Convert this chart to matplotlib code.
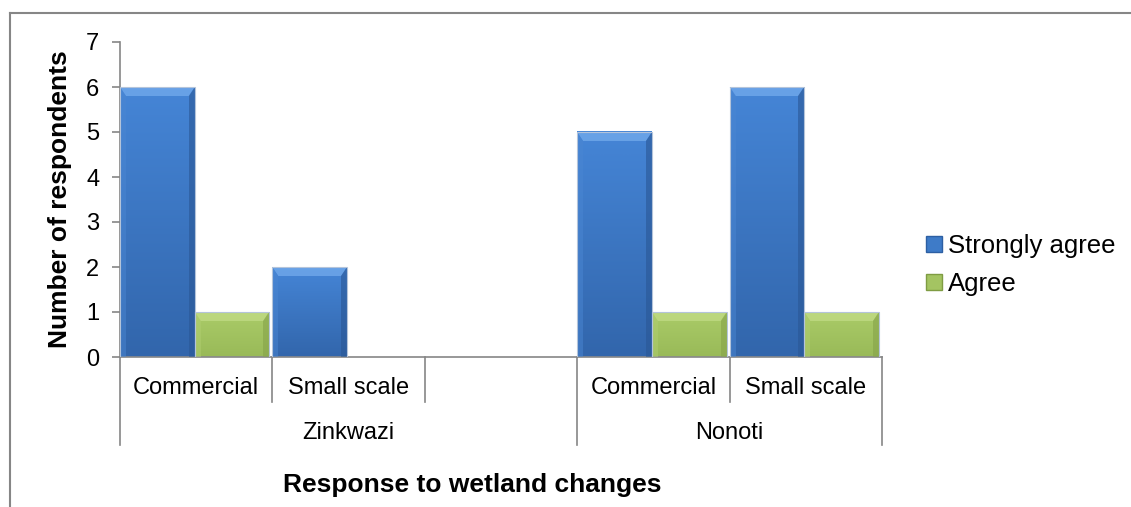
import numpy as np
import matplotlib
matplotlib.use("Agg")
import matplotlib.pyplot as plt
import matplotlib.transforms as mtransforms
from matplotlib.colors import LinearSegmentedColormap
from matplotlib.patches import Polygon, Patch
from matplotlib.lines import Line2D

plt.rcParams['font.family'] = ['Liberation Sans', 'DejaVu Sans']

# survey counts per site / farming type
groups = ["Zinkwazi", "Nonoti"]
group_spans = [(0, 2), (3, 4)]
categories = ["Commercial", "Small scale", "", "Commercial", "Small scale"]
strongly_agree = [6, 2, 0, 5, 6]
agree = [1, 0, 0, 1, 1]
series_names = ["Strongly agree", "Agree"]

W, H = 1131, 507
fig = plt.figure(figsize=(W / 100, H / 100), dpi=100)
ax = fig.add_axes([120 / W, 1 - 357 / H, 762 / W, 315 / H])

n = len(categories)
ax.set_xlim(-0.5, n - 0.5)
ax.set_ylim(0, 7)

# px -> data scale for bevel edges
px_x = n / 762
px_y = 7 / 315

styles = [
    dict(top="#4585D6", bottom="#3266AC", light="#74ABEC", dark="#2A5795", side="#4A86D2"),
    dict(top="#AACB68", bottom="#99BA58", light="#C2DC86", dark="#86A349", side="#B0CE70"),
]


def bevel_bar(x0, w, h, st):
    if h <= 0:
        return
    x1 = x0 + w
    cmap = LinearSegmentedColormap.from_list("g", [st["bottom"], st["top"]])
    grad = np.linspace(0, 1, 64).reshape(-1, 1)
    ax.imshow(grad, extent=(x0, x1, 0, h), origin="lower", cmap=cmap,
              aspect="auto", interpolation="bicubic", zorder=2)
    by = 9 * px_y
    sx = 6 * px_x
    ax.add_patch(Polygon([(x0, h), (x1, h), (x1 - sx, h - by), (x0 + sx, h - by)],
                         closed=True, facecolor=st["light"], edgecolor="none",
                         alpha=0.75, zorder=3))
    ax.add_patch(Polygon([(x1, h), (x1, 0), (x1 - sx, 0), (x1 - sx, h - by)],
                         closed=True, facecolor=st["dark"], edgecolor="none",
                         alpha=0.6, zorder=3))
    ax.add_patch(Polygon([(x0, h), (x0, 0), (x0 + sx, 0), (x0 + sx, h - by)],
                         closed=True, facecolor=st["side"], edgecolor="none",
                         alpha=0.5, zorder=3))
    ax.add_patch(Polygon([(x0, h), (x1, h), (x1, 0), (x0, 0)], closed=True,
                         facecolor="none", edgecolor="#B4C4DA", lw=0.8, zorder=4))


bar_w = 0.49
offsets = [-0.5, -0.01]
for i in range(n):
    bevel_bar(i + offsets[0], bar_w, strongly_agree[i], styles[0])
    bevel_bar(i + offsets[1], bar_w, agree[i], styles[1])

ax.set_xlim(-0.5, n - 0.5)
ax.set_ylim(0, 7)

axis_grey = "#868686"
for side in ["top", "right"]:
    ax.spines[side].set_visible(False)
for side in ["left", "bottom"]:
    ax.spines[side].set_color(axis_grey)
    ax.spines[side].set_linewidth(1.2)

ax.set_yticks(range(0, 8))
ax.tick_params(axis="y", length=6, width=1.2, color=axis_grey, pad=9, labelsize=17)
ax.set_xticks([])

# two-level category axis
tr = mtransforms.blended_transform_factory(ax.transData, ax.transAxes)
for i, lab in enumerate(categories):
    ax.text(i, -0.098, lab, transform=tr, ha="center", va="center", fontsize=17)
inner_y, outer_y = -0.143, -0.279
bounds = set()
for a, b in group_spans:
    bounds.add(a - 0.5)
    bounds.add(b + 0.5)
for k in range(n + 1):
    xb = k - 0.5
    y_end = outer_y if xb in bounds else inner_y
    ax.add_line(Line2D([xb, xb], [0, y_end], transform=tr, color=axis_grey,
                       lw=1.2, clip_on=False))
for name, (a, b) in zip(groups, group_spans):
    ax.text((a + b) / 2, -0.241, name, transform=tr, ha="center", va="center",
            fontsize=17)

ax.set_xlabel("Response to wetland changes", fontsize=19, fontweight="bold")
ax.xaxis.label.set_va("center")
ax.xaxis.set_label_coords(0.462, -0.406)
ax.set_ylabel("Number of respondents", fontsize=19, fontweight="bold")
ax.yaxis.label.set_va("center")
ax.yaxis.set_label_coords(-0.079, 0.5)

handles = [Patch(facecolor="#3E7BC8", edgecolor="#2D5FA3"),
           Patch(facecolor="#A4C462", edgecolor="#7F9C43")]
fig.legend(handles, series_names, loc="center left",
           bbox_to_anchor=(903 / W, 1 - 265 / H), frameon=False, fontsize=18.5,
           handlelength=0.6, handleheight=0.6, handletextpad=0.25,
           labelspacing=0.55)

# chart area border
fig.add_artist(Line2D([10 / W, 1], [1 - 13 / H, 1 - 13 / H], color=axis_grey, lw=1.5))
fig.add_artist(Line2D([10 / W, 10 / W], [0, 1 - 13 / H], color=axis_grey, lw=1.5))

fig.savefig("out.png", dpi=100)
